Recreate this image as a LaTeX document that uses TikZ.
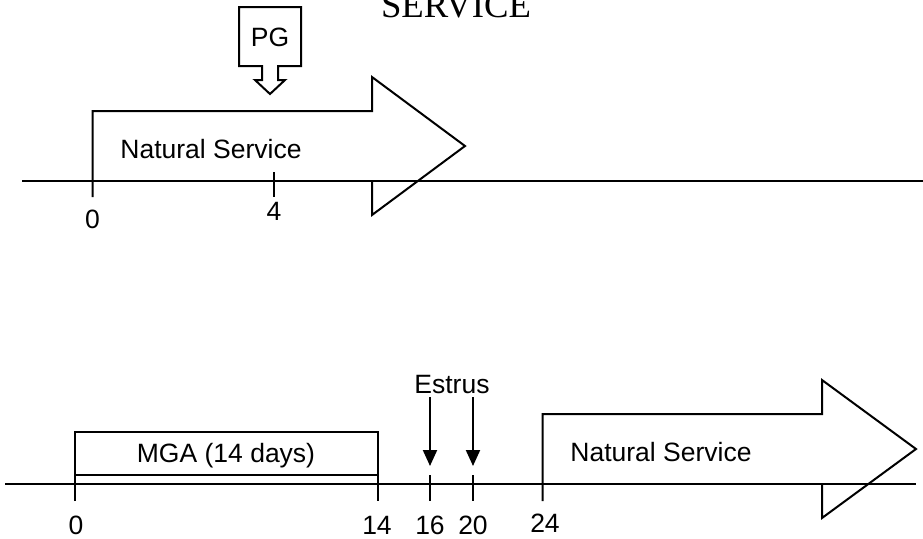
\documentclass[tikz,border=0pt]{standalone}
\usepackage{fontspec}
\setmainfont{Liberation Serif}
\setsansfont{Liberation Sans}
\usetikzlibrary{arrows.meta}
\begin{document}
\begin{tikzpicture}[x=0.5pt,y=-0.5pt]

            \tikzstyle{axis} = [line width=1.2pt];
            \tikzstyle{outline} = [line width=1pt, line join=miter];
            \tikzstyle{tick} = [line width=1pt];
            \tikzstyle{label} = [font=\sffamily\fontsize{13.25}{16}\selectfont, inner sep=0];
            \tikzstyle{arrow} = [line width=1pt, -{Triangle[length=8pt, width=7pt]}];

            \useasboundingbox (0,0) rectangle (923,538);

            \node[font=\rmfamily\fontsize{18.35}{22}\selectfont, anchor=base, inner sep=0] (title) at (456,17) {SERVICE};

            % upper timeline
            \draw[axis] (22,181) -- (923,181);
            \draw[outline] (92.5,197) -- (92.5,111) -- (372,111) -- (372,77) -- (465,146) -- (372,215) -- (372,181);
            \draw[tick] (274,172) -- (274,197);
            \node[label, anchor=base] (ns1) at (211,158.5) {Natural Service};
            \node[label] (a0) at (92.5,219) {0};
            \node[label] (a4) at (274,211) {4};

            % PG callout
            \draw[outline] (239,7) -- (301,7) -- (301,66) -- (278,66) -- (278,80) -- (285,80) -- (270,94) -- (255,80) -- (262,80) -- (262,66) -- (239,66) -- cycle;
            \node[label] (pg) at (270,37.5) {PG};

            % lower timeline
            \draw[axis] (5,484) -- (916,484);
            \draw[outline] (75,501) -- (75,432) -- (378,432) -- (378,501);
            \draw[outline] (75,475) -- (378,475);
            \node[label, anchor=base] (mga) at (226,462) {MGA (14 days)};
            \draw[tick] (430,475) -- (430,501);
            \draw[tick] (473,475) -- (473,501);

            \node[label, anchor=base] (estrus) at (452,393) {Estrus};
            \coordinate (e16) at (430,397);
            \coordinate (p16) at (430,466);
            \coordinate (e20) at (473,397);
            \coordinate (p20) at (473,466);
            \draw[arrow] (e16) -- (p16);
            \draw[arrow] (e20) -- (p20);

            \draw[outline] (542.7,501) -- (542.7,414) -- (822,414) -- (822,380) -- (916,449) -- (822,518) -- (822,484);
            \node[label, anchor=base] (ns2) at (661,461) {Natural Service};

            \node[label] (b0) at (76,525) {0};
            \node[label] (b14) at (377,525) {14};
            \node[label] (b16) at (430,525) {16};
            \node[label] (b20) at (473,525) {20};
            \node[label] (b24) at (545,523) {24};

        \end{tikzpicture}
\end{document}
